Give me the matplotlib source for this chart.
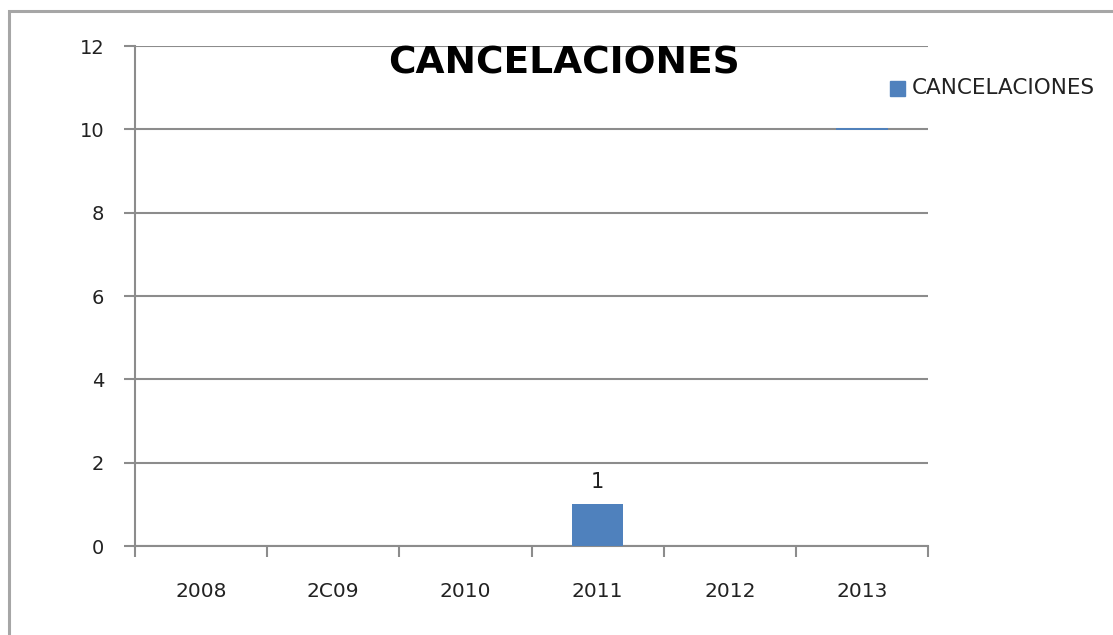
import numpy as np
from matplotlib import pyplot as plt
from matplotlib.patches import Rectangle

# data
years = ["2008", "2C09", "2010", "2011", "2012", "2013"]
cancelaciones = [0, 0, 0, 1, 0, 0]
# the 2013 column only shows its top edge in the original, at 10
top_edges = [None, None, None, None, None, 10]
y_ticks = [0, 2, 4, 6, 8, 10, 12]

blue = "#4F81BD"
grid_grey = "#8C8C8C"

fig = plt.figure(figsize=(11.13, 6.35), dpi=100)

# outer chart frame (runs off the right and bottom edges)
fig.patches.append(Rectangle((9 / 1113, -0.05), 1.2, 1 - 11 / 635 + 0.05,
                             transform=fig.transFigure, fill=False,
                             edgecolor="#A6A6A6", linewidth=2.2))

ax = fig.add_axes([135 / 1113, 1 - 546 / 635, (928 - 135) / 1113, (546 - 46) / 635])

x = np.arange(len(years))
bars = ax.bar(x, cancelaciones, width=0.39, color=blue, zorder=3)
for xi, v in zip(x, cancelaciones):
    if v > 0:
        ax.text(xi, v + 0.3, str(v), ha="center", va="bottom", fontsize=15, color="#1F1F1F")

for xi, v in zip(x, top_edges):
    if v is not None:
        ax.hlines(v, xi - 0.195, xi + 0.195, color=blue, linewidth=1.4, zorder=4)

ax.set_xlim(-0.5, len(years) - 0.5)
ax.set_ylim(0, 12)
ax.set_yticks(y_ticks)
ax.set_yticklabels([str(t) for t in y_ticks], fontsize=14, color="#222222")
ax.set_xticks(x)
ax.set_xticklabels(years, fontsize=14.5, color="#222222")
ax.set_xticks(np.arange(len(years) + 1) - 0.5, minor=True)

ax.yaxis.grid(True, color=grid_grey, linewidth=1.5, zorder=0)
ax.set_axisbelow(True)
for s in ["top", "right"]:
    ax.spines[s].set_visible(False)
for s in ["left", "bottom"]:
    ax.spines[s].set_color(grid_grey)
    ax.spines[s].set_linewidth(1.5)

ax.tick_params(axis="y", length=8, width=1.5, color=grid_grey, pad=14)
ax.tick_params(axis="x", which="major", length=0, pad=26)
ax.tick_params(axis="x", which="minor", length=8, width=1.5, color=grid_grey)

fig.text(564 / 1113, 1 - 64 / 635, "CANCELACIONES", ha="center", va="center",
         fontsize=27, fontweight="bold", color="black")

# legend
fig.patches.append(Rectangle((890 / 1113, 1 - 96 / 635), 15 / 1113, 15 / 635,
                             transform=fig.transFigure, color=blue))
fig.text(912 / 1113, 1 - 88 / 635, "CANCELACIONES", ha="left", va="center",
         fontsize=15.5, color="#222222")

fig.savefig("out.png", dpi=100)
